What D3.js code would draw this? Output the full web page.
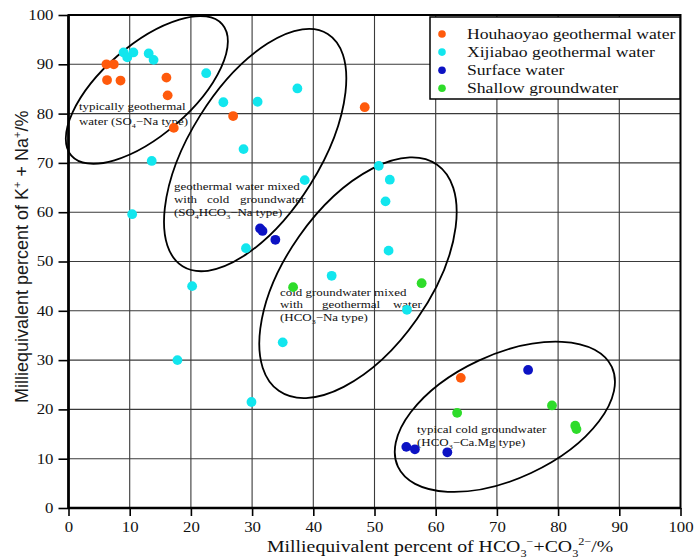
<!DOCTYPE html>
<html>
<head>
<meta charset="utf-8">
<script src="https://cdn.jsdelivr.net/npm/d3@7"></script>
<style>
  body { margin: 0; background: #fff; }
  svg { display: block; }
</style>
</head>
<body>
<svg id="chart" width="695" height="558"></svg>
<script>
// ---- data: milliequivalent percent (HCO3+CO3, K+Na) ----
const houhaoyaoX = [6.2, 7.4, 6.3, 8.5, 16.0, 16.2, 17.2, 26.9, 48.4, 64.1];
const houhaoyaoY = [90.0, 90.0, 86.8, 86.7, 87.3, 83.7, 77.1, 79.5, 81.3, 26.4];

const xijiabaoX = [9.0, 9.6, 10.6, 13.1, 13.9, 22.5, 25.3, 30.9, 37.4, 28.6, 13.6, 10.4,
                   38.6, 29.0, 43.0, 20.2, 50.7, 52.5, 51.8, 52.3, 55.3, 35.0, 17.8, 29.9];
const xijiabaoY = [92.4, 91.4, 92.4, 92.2, 90.9, 88.2, 82.3, 82.4, 85.1, 72.8, 70.4, 59.6,
                   66.5, 52.7, 47.1, 45.0, 69.4, 66.6, 62.2, 52.2, 40.2, 33.6, 30.0, 21.5];

const surfaceX = [31.3, 31.7, 33.8, 75.1, 55.2, 56.6, 61.9];
const surfaceY = [56.7, 56.2, 54.4, 28.0, 12.4, 11.9, 11.3];

const shallowX = [36.7, 57.7, 63.5, 79.0, 82.8, 83.0];
const shallowY = [44.8, 45.6, 19.3, 20.8, 16.7, 16.0];

const seriesNames = ["Houhaoyao geothermal water", "Xijiabao geothermal water",
                     "Surface water", "Shallow groundwater"];
const seriesColors = ["#ff5a0c", "#12e6ee", "#0c12c4", "#2edc2a"];

const xTicks = [0, 10, 20, 30, 40, 50, 60, 70, 80, 90, 100];
const yTicks = [0, 10, 20, 30, 40, 50, 60, 70, 80, 90, 100];

// water-type groups: centre in data units, semi-axes (px), tilt (deg)
const groupCenterX = [12.8, 30.5, 47.3, 71.3];
const groupCenterY = [84.8, 72.6, 46.7, 18.5];
const groupRx = [100, 137, 138, 118];
const groupRy = [45, 65, 72, 62];
const groupTilt = [41, 58, 55, 25];

// ---- setup ----
const series = [
  {name: seriesNames[0], color: seriesColors[0], xs: houhaoyaoX, ys: houhaoyaoY},
  {name: seriesNames[1], color: seriesColors[1], xs: xijiabaoX, ys: xijiabaoY},
  {name: seriesNames[2], color: seriesColors[2], xs: surfaceX, ys: surfaceY},
  {name: seriesNames[3], color: seriesColors[3], xs: shallowX, ys: shallowY}
];

const svg = d3.select("#chart");
const x = d3.scaleLinear().domain([0, 100]).range([68.5, 680.5]);
const y = d3.scaleLinear().domain([0, 100]).range([508, 15]);
const SX = 1.2;          // horizontal widening of the serif lettering
const SERIF = "'Liberation Serif', 'Times New Roman', serif";

// grid
const grid = svg.append("g").attr("stroke", "#3a3a3a").attr("stroke-width", 1.1);
xTicks.filter(v => v > 0 && v < 100).forEach(v => {
  grid.append("line").attr("x1", x(v)).attr("x2", x(v)).attr("y1", y(0)).attr("y2", y(100));
});
yTicks.filter(v => v > 0 && v < 100).forEach(v => {
  grid.append("line").attr("y1", y(v)).attr("y2", y(v)).attr("x1", x(0)).attr("x2", x(100));
});

// axes
const yAxis = svg.append("g").attr("transform", `translate(${x(0)},0)`)
  .call(d3.axisLeft(y).tickValues(yTicks).tickSize(10).tickPadding(5).tickSizeOuter(0));
const xAxis = svg.append("g").attr("transform", `translate(0,${y(0)})`)
  .call(d3.axisBottom(x).tickValues(xTicks).tickSize(8).tickPadding(6).tickSizeOuter(0));
[xAxis, yAxis].forEach(a => {
  a.select(".domain").remove();
  a.selectAll(".tick line").attr("stroke", "#000").attr("stroke-width", 1.6);
  a.selectAll(".tick text").attr("font-family", SERIF).attr("font-size", 14)
    .attr("fill", "#111");
});
yAxis.selectAll(".tick text").attr("x", -15 / SX).attr("transform", `scale(${SX},1)`);
xAxis.selectAll(".tick text").attr("transform", `scale(${SX},1)`);

// frame
svg.append("rect")
  .attr("x", x(0)).attr("y", y(100))
  .attr("width", x(100) - x(0)).attr("height", y(0) - y(100))
  .attr("fill", "none").attr("stroke", "#000").attr("stroke-width", 2);
svg.append("line").attr("x1", x(0)).attr("x2", x(0)).attr("y1", y(100)).attr("y2", y(0))
  .attr("stroke", "#000").attr("stroke-width", 2.6);
svg.append("line").attr("x1", x(0)).attr("x2", x(100)).attr("y1", y(0)).attr("y2", y(0))
  .attr("stroke", "#000").attr("stroke-width", 2.6);

// group outlines
const groups = svg.append("g").attr("fill", "none").attr("stroke", "#000").attr("stroke-width", 1.8);
groupCenterX.forEach((cx, i) => {
  const px = x(cx), py = y(groupCenterY[i]);
  groups.append("ellipse")
    .attr("cx", px).attr("cy", py)
    .attr("rx", groupRx[i]).attr("ry", groupRy[i])
    .attr("transform", `rotate(${-groupTilt[i]},${px},${py})`);
});

// lettering helper: parts are [text, 'sub'|'sup'|undefined]
function label(px, py, parts, size, family, stretch) {
  const t = svg.append("text")
    .attr("transform", `translate(${px},${py}) scale(${stretch},1)`)
    .attr("font-family", family).attr("font-size", size).attr("fill", "#111");
  let shift = 0;
  parts.forEach(([s, kind]) => {
    const sp = t.append("tspan").text(s);
    let target = 0;
    if (kind === "sub") { target = 0.3 * size; sp.attr("font-size", size * 0.62); }
    if (kind === "sup") { target = -0.42 * size; sp.attr("font-size", size * 0.62); }
    if (target !== shift) sp.attr("dy", target - shift);
    shift = target;
  });
  return t;
}

const A = 10.8;
// SO4-Na group
label(79, 110, [["typically geothermal"]], A, SERIF, SX);
label(79, 124.5, [["water (SO"], ["4", "sub"], ["\u2212Na type)"]], A, SERIF, SX);
// mixed geothermal group
label(174, 190, [["geothermal water mixed"]], A, SERIF, SX);
label(174, 203, [["with"]], A, SERIF, SX);
label(207, 203, [["cold"]], A, SERIF, SX);
label(240, 203, [["groundwater"]], A, SERIF, SX);
label(174, 215.5, [["(SO"], ["4", "sub"], ["HCO"], ["3", "sub"], ["\u2212Na type)"]], A, SERIF, SX);
// mixed cold group
label(280, 295.5, [["cold groundwater mixed"]], A, SERIF, SX);
label(280, 308, [["with"]], A, SERIF, SX);
label(322, 308, [["geothermal"]], A, SERIF, SX);
label(393, 308, [["water"]], A, SERIF, SX);
label(280, 321, [["(HCO"], ["3", "sub"], ["\u2212Na type)"]], A, SERIF, SX);
// cold groundwater group
label(417, 433, [["typical cold groundwater"]], A, SERIF, SX);
label(417, 445.5, [["(HCO"], ["3", "sub"], ["\u2212Ca.Mg type)"]], A, SERIF, SX);

// points
series.forEach(s => {
  svg.append("g").selectAll("circle")
    .data(s.xs.map((v, i) => [v, s.ys[i]]))
    .join("circle")
    .attr("cx", d => x(d[0])).attr("cy", d => y(d[1]))
    .attr("r", 4.9).attr("fill", s.color);
});

// legend
const lg = svg.append("g");
lg.append("rect").attr("x", 430).attr("y", 17).attr("width", 250).attr("height", 82)
  .attr("fill", "#fff").attr("stroke", "#000").attr("stroke-width", 1.5);
series.forEach((s, i) => {
  const cy = 34 + i * 18.1;
  lg.append("circle").attr("cx", 442).attr("cy", cy).attr("r", 3.8).attr("fill", s.color);
  label(467, cy + 5, [[s.name]], 14.7, SERIF, SX);
});

// axis titles
label(267, 552, [["Milliequivalent percent of HCO"], ["3", "sub"], ["\u2212", "sup"],
                 ["+CO"], ["3", "sub"], ["2\u2212", "sup"], ["/%"]], 16.5, SERIF, SX);
svg.append("text")
  .attr("transform", "translate(28,403) rotate(-90)")
  .attr("font-family", "'Liberation Sans', Arial, sans-serif").attr("font-size", 18)
  .attr("fill", "#1a1a1a")
  .call(t => {
    t.append("tspan").text("Milliequivalent percent of K");
    t.append("tspan").text("+").attr("font-size", 11).attr("dy", -7);
    t.append("tspan").text(" + Na").attr("dy", 7);
    t.append("tspan").text("+").attr("font-size", 11).attr("dy", -7);
    t.append("tspan").text("/%").attr("dy", 7);
  });
</script>
</body>
</html>
